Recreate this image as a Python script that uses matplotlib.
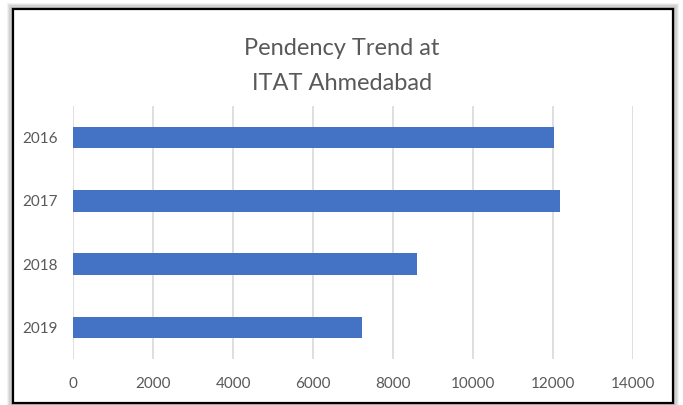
import matplotlib
matplotlib.use("Agg")
import matplotlib.pyplot as plt
from matplotlib.patches import Rectangle

years = ["2016", "2017", "2018", "2019"]
pendency = [12040, 12180, 8600, 7225]
x_ticks = [0, 2000, 4000, 6000, 8000, 10000, 12000, 14000]

text_color = "#595959"
bar_color = "#4472C4"
grid_color = "#D9D9D9"

plt.rcParams["font.family"] = ["Lato", "DejaVu Sans"]

fig = plt.figure(figsize=(6.83, 4.05), dpi=100)
fig.patch.set_facecolor("white")

# soft shadow round the chart frame
x0, y0 = 13 / 683, 1 - 403 / 405
w, h = (673 - 13) / 683, (403 - 9) / 405
for i, a in enumerate([0.05, 0.06, 0.08, 0.11, 0.15]):
    pad = (5 - i) * 1.2
    fig.patches.append(Rectangle((x0 - pad / 683, y0 - pad / 405), w + 2 * pad / 683,
                                 h + 2 * pad / 405, transform=fig.transFigure,
                                 facecolor="black", edgecolor="none", alpha=a, zorder=0))
fig.patches.append(Rectangle((x0, y0), w, h, transform=fig.transFigure,
                             facecolor="white", edgecolor="black", linewidth=1.6, zorder=1))

ax = fig.add_axes([73.3 / 683, 1 - 359.3 / 405, (632.7 - 73.3) / 683, (359.3 - 105.7) / 405])
ax.set_facecolor("none")
ax.set_zorder(2)

pos = list(range(len(years)))
ax.barh(pos, pendency, height=0.34, color=bar_color, zorder=3)
ax.set_ylim(len(years) - 0.5, -0.5)
ax.set_xlim(0, 14000)
ax.set_xticks(x_ticks)
ax.set_xticklabels([str(t) for t in x_ticks])
ax.set_yticks(pos)
ax.set_yticklabels(years)
ax.tick_params(axis="both", length=0, colors=text_color, labelsize=11)
ax.tick_params(axis="x", pad=13)
ax.tick_params(axis="y", pad=11)
ax.grid(axis="x", color=grid_color, linewidth=1.2, zorder=0)
for s in ax.spines.values():
    s.set_visible(False)

fig.text(342 / 683, 1 - 66 / 405, "Pendency Trend at\nITAT Ahmedabad", ha="center", va="center",
         fontsize=17, color=text_color, linespacing=1.8)

fig.savefig("out.png", dpi=100)
